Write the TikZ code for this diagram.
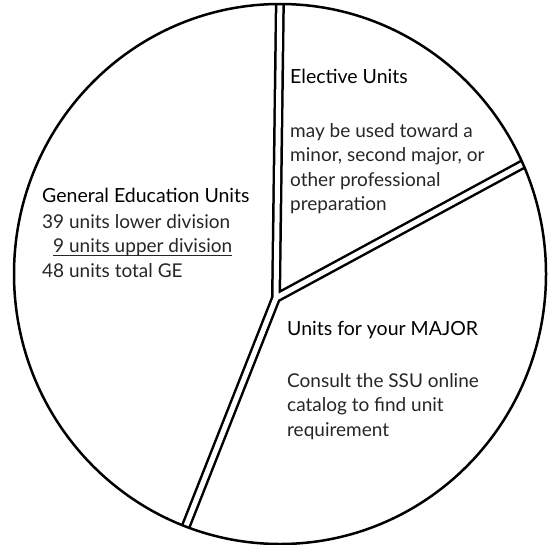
\documentclass[tikz,border=0pt]{standalone}
\usepackage{fontspec}
\setmainfont{Lato}
\usetikzlibrary{positioning}
\newcommand{\thickul}[1]{\setbox0\hbox{#1}\rlap{\rule[-3.5pt]{\wd0}{1.2pt}}\box0}

\begin{document}
\begin{tikzpicture}[x=1pt, y=-1pt,
        rim/.style={line width=2.5pt},
        band/.style={line width=10pt},
        gap/.style={white, line width=5pt},
        title/.style={anchor=base west, inner sep=0pt, font=\fontsize{19.5}{24.5}\selectfont},
        body/.style={anchor=base west, inner sep=0pt, align=left, text=black!85,
            font=\fontsize{19}{24.5}\selectfont}
    ]
        \useasboundingbox (0,0) rectangle (548,544);

        % Hub and rim points of the dividers
        \coordinate (hub) at (276,298);
        \coordinate (top) at (280,-6);
        \coordinate (right) at (540,155);
        \coordinate (bottom) at (180,541);

        % Dividers
        \begin{scope}
            \clip (280,274) ellipse [x radius=266, y radius=270];
            \draw[band] (top) -- (hub) -- (bottom) (hub) -- (right);
            \draw[gap] (top) -- (hub) -- (bottom) (hub) -- (right);
        \end{scope}

        % Rim
        \draw[rim] (280,274) ellipse [x radius=266, y radius=270];

        % Labels (body nodes sit on the baseline of their last line)
        \node[title] (elective) at (290,83) {Elective Units};
        \node[body] (electivetext) at (290,210.5) {may be used toward a\\minor, second major, or\\other professional\\preparation};

        \node[title] (ge) at (42,202) {General Education Units};
        \node[body] (getext) at (42,277) {39 units lower division\\\hspace*{11pt}\thickul{9 units upper division}\\48 units total GE};

        \node[title] (major) at (287,335) {Units for your MAJOR};
        \node[body] (majortext) at (287,436) {Consult the SSU online\\catalog to find unit\\requirement};
    \end{tikzpicture}
\end{document}
